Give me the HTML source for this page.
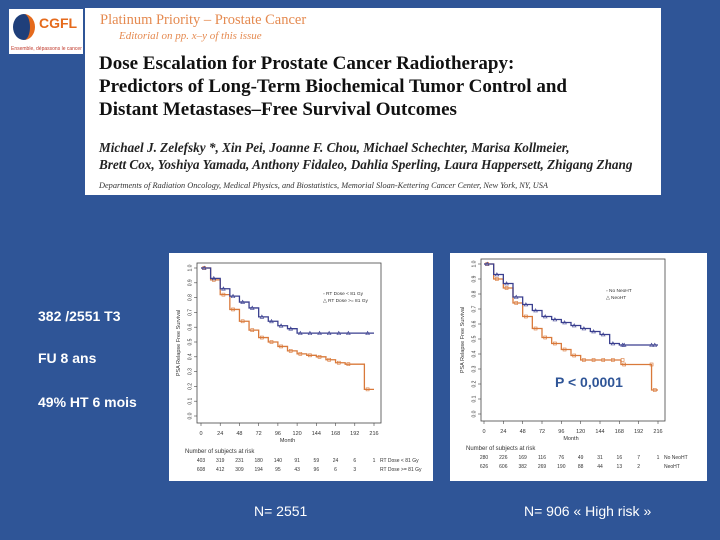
<!DOCTYPE html>
<html><head><meta charset="utf-8"><style>
*{margin:0;padding:0;box-sizing:border-box}
body{width:720px;height:540px;background:#2f5597;position:relative;overflow:hidden;font-family:"Liberation Sans",sans-serif}
.abs{position:absolute;white-space:nowrap}
.side{color:#fff;font-weight:bold;font-size:14px;left:38px}
.serif{font-family:"Liberation Serif",serif}
</style></head><body>
<div class="abs" style="left:9px;top:9px;width:74px;height:45px;background:#fff;overflow:hidden">
 <div class="abs" style="left:4px;top:5px;width:22px;height:26px;border-radius:50%;background:#1f3f7a;border-right:5px solid #e56a1c"></div>
 <div class="abs" style="left:30px;top:6px;color:#e56a1c;font-size:14px;font-weight:bold">CGFL</div>
 <div class="abs" style="left:2px;top:37px;color:#c0392b;font-size:5px">Ensemble, dépassons le cancer</div>
</div>
<div class="abs" style="left:85px;top:8px;width:576px;height:187px;background:#fff">
 <div class="abs serif" style="left:15px;top:4px;color:#e58a50;font-size:14.5px">Platinum Priority – Prostate Cancer</div>
 <div class="abs serif" style="left:34px;top:22px;color:#e58a50;font-size:11px;font-style:italic">Editorial on pp. x–y of this issue</div>
 <div class="abs serif" style="left:14px;top:44px;color:#111;font-size:19px;font-weight:bold;line-height:23px">Dose Escalation for Prostate Cancer Radiotherapy:<br>Predictors of Long-Term Biochemical Tumor Control and<br>Distant Metastases–Free Survival Outcomes</div>
 <div class="abs serif" style="left:14px;top:131px;color:#222;font-size:13.2px;font-style:italic;font-weight:bold;line-height:17px">Michael J. Zelefsky *, Xin Pei, Joanne F. Chou, Michael Schechter, Marisa Kollmeier,<br>Brett Cox, Yoshiya Yamada, Anthony Fidaleo, Dahlia Sperling, Laura Happersett, Zhigang Zhang</div>
 <div class="abs serif" style="left:14px;top:173px;color:#333;font-size:8.3px;font-style:italic">Departments of Radiation Oncology, Medical Physics, and Biostatistics, Memorial Sloan-Kettering Cancer Center, New York, NY, USA</div>
</div>
<div class="abs side" style="top:308px">382 /2551 T3</div>
<div class="abs side" style="top:350px">FU 8 ans</div>
<div class="abs side" style="top:394px">49% HT 6 mois</div>
<div class="abs side" style="left:254px;top:503px;font-weight:normal">N= 2551</div>
<div class="abs side" style="left:524px;top:503px;font-weight:normal">N= 906 « High risk »</div>
<svg class="abs" style="left:0;top:0" width="720" height="540" id="svg"></svg>
<script>
const monthTicks=[0,24,48,72,96,120,144,168,192,216];
const survTicks=[0,0.1,0.2,0.3,0.4,0.5,0.6,0.7,0.8,0.9,1.0];
// chart 1
const c1Months=[0,12,24,36,48,60,72,84,96,108,120,132,144,156,168,180,204,216];
const c1Low=[1.0,0.92,0.82,0.72,0.64,0.58,0.53,0.50,0.47,0.44,0.42,0.41,0.40,0.38,0.36,0.35,0.18,0.18];
const c1High=[1.0,0.93,0.86,0.81,0.77,0.73,0.67,0.64,0.61,0.59,0.56,0.56,0.56,0.56,0.56,0.56,0.56,0.56];
const c1RiskLow=["403","319","231","180","140","91","59","24","6","1"];
const c1RiskHigh=["608","412","309","194","95","43","96","6","3",""];
const c1Labels=["RT Dose < 81 Gy","RT Dose >= 81 Gy"];
// chart 2
const c2Months=[0,12,24,36,48,60,72,84,96,108,120,132,144,156,168,170,204,208,216];
const c2No=[1.0,0.90,0.84,0.74,0.65,0.57,0.51,0.47,0.43,0.39,0.36,0.36,0.36,0.36,0.36,0.33,0.33,0.16,0.16];
const c2Neo=[1.0,0.93,0.87,0.78,0.73,0.69,0.65,0.63,0.61,0.59,0.57,0.55,0.53,0.47,0.46,0.46,0.46,0.46,0.46];
const c2RiskNo=["280","226","169","116","76","49","31","16","7","1"];
const c2RiskNeo=["626","606","382","269","190","88","44","13","2",""];
const c2Labels=["No NeoHT","NeoHT"];

const NS="http://www.w3.org/2000/svg",svg=document.getElementById('svg');
function mk(tag,attrs,parent){const e=document.createElementNS(NS,tag);for(const k in attrs)e.setAttribute(k,attrs[k]);(parent||svg).appendChild(e);return e;}
function chart(o){
 const g=mk('g',{});
 
 
 const bg=mk('rect',{x:o.bx,y:o.by,width:o.bw,height:o.bh,fill:'#fff'},g);
 
 
 const X=m=>o.x0+(m/216)*(o.x1-o.x0), Y=v=>o.y0-(v)*(o.y0-o.y1);
 const fr=mk('rect',{x:o.fx0,y:o.fy0,width:o.fx1-o.fx0,height:o.fy1-o.fy0,fill:'none',stroke:'#444','stroke-width':0.8},g);
 
 
 monthTicks.forEach(m=>{
  mk('line',{x1:X(m),x2:X(m),y1:o.fy1,y2:o.fy1+3,stroke:'#444','stroke-width':0.6},g);
  const t=mk('text',{x:X(m),y:o.fy1+12,'font-size':5.5,'text-anchor':'middle',fill:'#333'},g);
  t.textContent=m;
  
  
 });
 survTicks.forEach(v=>{
  mk('line',{x1:o.fx0-3,x2:o.fx0,y1:Y(v),y2:Y(v),stroke:'#444','stroke-width':0.6},g);
  const t=mk('text',{x:o.fx0-7,y:Y(v),'font-size':5,'text-anchor':'middle',fill:'#333',transform:`rotate(-90 ${o.fx0-7} ${Y(v)})`,'dominant-baseline':'middle'},g);
  t.textContent=v.toFixed(1);
  
  
 });
 const xt=mk('text',{x:(o.x0+o.x1)/2,y:o.fy1+19,'font-size':5.5,'text-anchor':'middle',fill:'#333'},g);
 xt.textContent='Month';
 
 
 const yx=o.fx0-17,yy=(o.fy0+o.fy1)/2;
 const yt=mk('text',{x:yx,y:yy,'font-size':5.5,'text-anchor':'middle',fill:'#333',transform:`rotate(-90 ${yx} ${yy})`},g);
 yt.textContent='PSA Relapse Free Survival';
 
 
 o.series.forEach((s,si)=>{
  let d='';
  s.vals.forEach((v,i)=>{const x=X(o.months[i]),y=Y(v);if(i===0)d+=`M${x},${y}`;else d+=`H${x}V${y}`;});
  const p=mk('path',{d,fill:'none',stroke:s.color,'stroke-width':1.3},g);
  
  
  s.vals.forEach((v,i)=>{
   if(i===0)return;
   const x=X(o.months[i-1]+4),y=Y(s.vals[i-1]);
   const mkr=si===0?mk('rect',{x:x-1.5,y:y-1.5,width:3,height:3,fill:'none',stroke:s.color,'stroke-width':0.6},g)
    :mk('path',{d:`M${x-1.8},${y+1.5}L${x},${y-1.8}L${x+1.8},${y+1.5}Z`,fill:'none',stroke:s.color,'stroke-width':0.6},g);
   
   
  });
  const ly=o.legY+si*7;
  const lm=mk('text',{x:o.legX,y:ly,'font-size':4.8,fill:'#333'},g);
  lm.textContent=(si===0?'▫ ':'△ ')+s.label;
  
  
  s.risk.forEach((r,i)=>{
   const t=mk('text',{x:X(monthTicks[i]),y:o.riskY+9+si*9,'font-size':5,'text-anchor':'middle',fill:'#333'},g);
   t.textContent=r;
   
   
  });
  const rl=mk('text',{x:X(216)+6,y:o.riskY+9+si*9,'font-size':5,fill:'#333'},g);
  rl.textContent=s.label;
  
  
 });
 const rh=mk('text',{x:o.bx+16,y:o.riskY,'font-size':6,fill:'#333'},g);
 rh.textContent='Number of subjects at risk';
 
 
}
chart({name:'dose-km-chart',bx:169,by:253,bw:264,bh:228,x0:201,x1:374,y0:416,y1:268,fx0:197,fx1:381,fy0:263,fy1:423,months:c1Months,legX:323,legY:295,riskY:453,
 series:[{name:'dose-low',label:c1Labels[0],vals:c1Low,color:'#d9793a',risk:c1RiskLow},{name:'dose-high',label:c1Labels[1],vals:c1High,color:'#3a3f8f',risk:c1RiskHigh}]});
chart({name:'hormone-km-chart',bx:450,by:253,bw:257,bh:228,x0:484,x1:658,y0:414,y1:264,fx0:481,fx1:665,fy0:259,fy1:421,months:c2Months,legX:606,legY:292,riskY:450,
 series:[{name:'no-neoht',label:c2Labels[0],vals:c2No,color:'#d9793a',risk:c2RiskNo},{name:'neoht',label:c2Labels[1],vals:c2Neo,color:'#3a3f8f',risk:c2RiskNeo}]});
const pv=mk('text',{x:555,y:387,'font-size':14,'font-weight':'bold',fill:'#2f5597','font-family':'Liberation Sans, sans-serif'});
pv.textContent='P < 0,0001';


</script>
</body></html>
